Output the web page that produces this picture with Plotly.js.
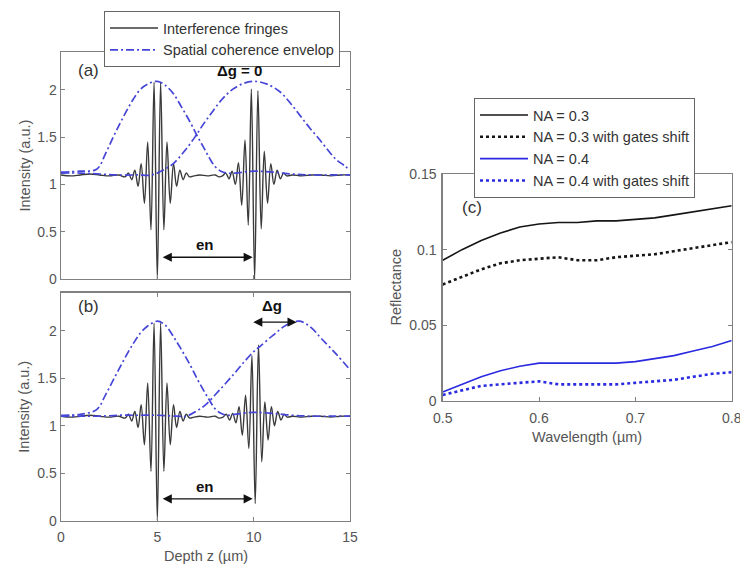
<!DOCTYPE html>
<html>
<head>
<meta charset="utf-8">
<script src="https://cdn.plot.ly/plotly-3.0.1.min.js"></script>
<style>html,body{margin:0;padding:0;background:#fff;}#chart{width:740px;height:569px;}</style>
</head>
<body>
<div id="chart"></div>
<script>
// ---------- Panel (a) data ----------
var fringeZA = [0, 0.5, 1, 1.5, 2, 2.5, 3, 3.33, 3.5, 3.67, 3.83, 4.0, 4.16, 4.33, 4.5, 4.67, 4.83, 5.0, 5.17, 5.34, 5.5, 5.67, 5.84, 6.0, 6.17, 6.34, 6.5, 6.67,
  6.9, 7.2, 7.6, 8.0, 8.2, 8.38, 8.55, 8.72, 8.88, 9.05, 9.21, 9.38, 9.55, 9.72, 9.88, 10.05, 10.22, 10.39, 10.55, 10.72, 10.89, 11.05, 11.22, 11.39, 11.55, 11.72,
  12, 12.5, 13, 13.5, 14, 14.5, 15];
var fringeIA = [1.10, 1.09, 1.10, 1.11, 1.10, 1.09, 1.10, 1.08, 1.12, 1.05, 1.15, 0.98, 1.22, 0.80, 1.45, 0.52, 2.08, 0.00, 2.08, 0.52, 1.45, 0.80, 1.22, 0.98, 1.15, 1.05, 1.12, 1.08,
  1.09, 1.10, 1.09, 1.10, 1.08, 1.09, 1.12, 1.06, 1.14, 1.00, 1.23, 0.78, 1.47, 0.57, 2.01, 0.00, 1.99, 0.53, 1.35, 0.80, 1.22, 1.00, 1.15, 1.06, 1.12, 1.09,
  1.10, 1.09, 1.10, 1.10, 1.09, 1.10, 1.10];
var envZ1A = [0, 1, 1.85, 2.3, 2.71, 3.05, 3.41, 3.75, 4.1, 4.5, 5.0, 5.4, 5.83, 6.25, 6.7, 7.05, 7.38, 7.7, 7.99, 8.3, 8.6, 9, 10, 11, 12, 13, 14, 15];
var envI1A = [1.13, 1.14, 1.16, 1.32, 1.50, 1.64, 1.78, 1.90, 2.00, 2.06, 2.09, 2.05, 1.96, 1.82, 1.66, 1.52, 1.40, 1.28, 1.19, 1.14, 1.12, 1.12, 1.14, 1.13, 1.11, 1.10, 1.10, 1.10];
var envZ2A = [0, 1, 2, 3, 4, 4.7, 5.3, 5.83, 6.4, 6.95, 7.4, 7.9, 8.4, 8.94, 9.5, 10.07, 10.7, 11.36, 11.9, 12.4, 12.9, 13.44, 13.9, 14.3, 14.7, 15];
var envI2A = [1.12, 1.12, 1.11, 1.10, 1.10, 1.10, 1.15, 1.22, 1.35, 1.50, 1.64, 1.78, 1.91, 2.01, 2.07, 2.09, 2.06, 1.98, 1.86, 1.73, 1.60, 1.47, 1.35, 1.26, 1.20, 1.15];

// ---------- Panel (b) data ----------
var fringeZB = [0, 0.5, 1, 1.5, 2, 2.5, 3, 3.33, 3.5, 3.67, 3.83, 4.0, 4.16, 4.33, 4.5, 4.67, 4.83, 5.0, 5.17, 5.34, 5.5, 5.67, 5.84, 6.0, 6.17, 6.34, 6.5, 6.67,
  6.9, 7.2, 7.6, 8.0, 8.2, 8.41, 8.58, 8.75, 8.91, 9.08, 9.24, 9.41, 9.58, 9.75, 9.91, 10.08, 10.25, 10.42, 10.58, 10.75, 10.92, 11.08, 11.25, 11.42, 11.58, 11.75,
  12, 12.5, 13, 13.5, 14, 14.5, 15];
var fringeIB = [1.10, 1.09, 1.10, 1.11, 1.10, 1.09, 1.10, 1.08, 1.12, 1.05, 1.15, 0.98, 1.22, 0.80, 1.45, 0.52, 2.08, 0.00, 2.08, 0.52, 1.45, 0.80, 1.22, 0.98, 1.15, 1.05, 1.12, 1.08,
  1.09, 1.10, 1.09, 1.10, 1.08, 1.09, 1.12, 1.06, 1.13, 1.03, 1.20, 0.90, 1.32, 0.76, 1.74, 0.18, 1.85, 0.62, 1.25, 0.85, 1.20, 1.00, 1.15, 1.06, 1.12, 1.09,
  1.10, 1.09, 1.10, 1.10, 1.09, 1.10, 1.10];
var envZ1B = [0, 1, 1.85, 2.3, 2.71, 3.1, 3.5, 3.8, 4.1, 4.5, 5.0, 5.4, 5.83, 6.25, 6.7, 7.05, 7.38, 7.7, 7.99, 8.3, 8.6, 9, 10, 11, 12, 13, 14, 15];
var envI1B = [1.11, 1.12, 1.17, 1.32, 1.48, 1.63, 1.78, 1.88, 1.97, 2.05, 2.10, 2.06, 1.94, 1.80, 1.64, 1.50, 1.38, 1.27, 1.18, 1.13, 1.11, 1.12, 1.14, 1.13, 1.11, 1.10, 1.10, 1.10];
var envZ2B = [0, 1, 2, 3, 4, 5, 6, 6.5, 7, 7.5, 8.25, 9.0, 9.5, 10.0, 10.3, 11.0, 11.7, 12.4, 13.0, 13.5, 14.3, 15];
var envI2B = [1.10, 1.10, 1.10, 1.11, 1.11, 1.11, 1.10, 1.10, 1.15, 1.22, 1.38, 1.55, 1.67, 1.78, 1.83, 1.95, 2.06, 2.10, 2.03, 1.92, 1.75, 1.59];

// ---------- Panel (c) data ----------
var wavelength = [0.5, 0.52, 0.54, 0.56, 0.58, 0.6, 0.62, 0.64, 0.66, 0.68, 0.7, 0.72, 0.74, 0.76, 0.78, 0.8];
var na03 = [0.093, 0.100, 0.106, 0.111, 0.115, 0.117, 0.118, 0.118, 0.119, 0.119, 0.120, 0.121, 0.123, 0.125, 0.127, 0.129];
var na03Shift = [0.077, 0.082, 0.087, 0.091, 0.093, 0.094, 0.095, 0.093, 0.093, 0.095, 0.096, 0.097, 0.099, 0.101, 0.103, 0.105];
var na04 = [0.006, 0.011, 0.016, 0.020, 0.023, 0.025, 0.025, 0.025, 0.025, 0.025, 0.026, 0.028, 0.030, 0.033, 0.036, 0.040];
var na04Shift = [0.004, 0.007, 0.010, 0.011, 0.012, 0.013, 0.011, 0.011, 0.011, 0.011, 0.012, 0.013, 0.014, 0.016, 0.018, 0.019];

var legendA = ['Interference fringes', 'Spatial coherence envelop'];
var legendC = ['NA = 0.3', 'NA = 0.3 with gates shift', 'NA = 0.4', 'NA = 0.4 with gates shift'];
var depthTicks = [0, 5, 10, 15];
var intensityTicks = [0, 0.5, 1, 1.5, 2];
var wlTicks = [0.5, 0.6, 0.7, 0.8];
var wlTickText = ['0.5', '0.6', '0.7', '0.8'];
var reflTicks = [0, 0.05, 0.1, 0.15];

var FR = '#3a3a3a', ENV = '#4545d8', BLK = '#151515', BLU = '#2a2ae0';
var envDash = '8px,3px,2px,3px';

var traces = [
  {x: fringeZA, y: fringeIA, xaxis: 'x', yaxis: 'y', mode: 'lines', name: legendA[0], line: {color: FR, width: 1.4, shape: 'spline', smoothing: 1}},
  {x: envZ1A, y: envI1A, xaxis: 'x', yaxis: 'y', mode: 'lines', name: legendA[1], line: {color: ENV, width: 1.7, dash: envDash, shape: 'spline'}},
  {x: envZ2A, y: envI2A, xaxis: 'x', yaxis: 'y', mode: 'lines', name: legendA[1], showlegend: false, line: {color: ENV, width: 1.7, dash: envDash, shape: 'spline'}},
  {x: fringeZB, y: fringeIB, xaxis: 'x2', yaxis: 'y2', mode: 'lines', name: legendA[0], showlegend: false, line: {color: FR, width: 1.4, shape: 'spline', smoothing: 1}},
  {x: envZ1B, y: envI1B, xaxis: 'x2', yaxis: 'y2', mode: 'lines', name: legendA[1], showlegend: false, line: {color: ENV, width: 1.7, dash: envDash, shape: 'spline'}},
  {x: envZ2B, y: envI2B, xaxis: 'x2', yaxis: 'y2', mode: 'lines', name: legendA[1], showlegend: false, line: {color: ENV, width: 1.7, dash: envDash, shape: 'spline'}},
  {x: wavelength, y: na03, xaxis: 'x3', yaxis: 'y3', mode: 'lines', name: legendC[0], legend: 'legend2', line: {color: BLK, width: 1.6}},
  {x: wavelength, y: na03Shift, xaxis: 'x3', yaxis: 'y3', mode: 'lines', name: legendC[1], legend: 'legend2', line: {color: BLK, width: 2.6, dash: 'dot'}},
  {x: wavelength, y: na04, xaxis: 'x3', yaxis: 'y3', mode: 'lines', name: legendC[2], legend: 'legend2', line: {color: BLU, width: 1.6}},
  {x: wavelength, y: na04Shift, xaxis: 'x3', yaxis: 'y3', mode: 'lines', name: legendC[3], legend: 'legend2', line: {color: BLU, width: 2.6, dash: 'dot'}}
];

var FONT = 'Arial, "Liberation Sans", sans-serif';
function ax(extra) {
  var base = {showline: true, linecolor: '#808080', linewidth: 1.4, mirror: 'allticks', ticks: 'inside', ticklen: 4,
    tickcolor: '#808080', tickwidth: 1, showgrid: false, zeroline: false, fixedrange: true,
    ticklabeloverflow: 'allow',
    tickfont: {family: FONT, size: 14, color: '#555'}};
  for (var k in extra) base[k] = extra[k];
  return base;
}

var W = 740, H = 569;
function px(v) { return v / W; }
function py(v) { return 1 - v / H; }

var titleFont = {family: FONT, size: 14.5, color: '#555'};
var annFont = {family: FONT, size: 17, color: '#333'};
var boldFont = {family: FONT, size: 15, color: '#111', weight: 'bold'};
function label(x, y, text, angle) {
  return {xref: 'paper', yref: 'paper', x: px(x), y: py(y), xanchor: 'center', yanchor: 'middle',
    text: text, textangle: angle || 0, showarrow: false, font: titleFont};
}
function note(xr, yr, x, y, text, font) {
  return {xref: xr, yref: yr, x: x, y: y, xanchor: 'center', yanchor: 'middle', text: text, showarrow: false, font: font};
}
function arrow(xr, yr, x0, x1, y) {
  return {xref: xr, yref: yr, axref: xr, ayref: yr, x: x1, y: y, ax: x0, ay: y, text: '', showarrow: true,
    arrowside: 'end+start', arrowhead: 2, startarrowhead: 2, arrowsize: 1.3, startarrowsize: 1.3, arrowwidth: 1.4, arrowcolor: '#111'};
}

var annotations = [
  label(24, 165.5, 'Intensity (a.u.)', -90),
  label(24, 406.7, 'Intensity (a.u.)', -90),
  label(206, 556, 'Depth z (µm)'),
  label(395, 287.5, 'Reflectance', -90),
  label(587, 437, 'Wavelength (µm)'),
  note('x', 'y', 1.43, 2.2, '(a)', annFont),
  note('x', 'y', 9.26, 2.2, 'Δg = 0', boldFont),
  note('x', 'y', 7.47, 0.36, 'en', boldFont),
  arrow('x', 'y', 5.2, 9.95, 0.23),
  note('x2', 'y2', 1.43, 2.25, '(b)', annFont),
  note('x2', 'y2', 10.93, 2.27, 'Δg', boldFont),
  arrow('x2', 'y2', 9.9, 12.23, 2.09),
  note('x2', 'y2', 7.47, 0.36, 'en', boldFont),
  arrow('x2', 'y2', 5.2, 9.95, 0.23),
  note('x3', 'y3', 0.53, 0.128, '(c)', annFont)
];

var legFont = {family: FONT, size: 14.5, color: '#333'};
var layout = {
  width: W, height: H,
  margin: {l: 0, r: 0, t: 0, b: 0},
  paper_bgcolor: '#fff', plot_bgcolor: '#fff',
  font: {family: FONT, size: 14, color: '#333'},
  xaxis: ax({domain: [px(61), px(350)], range: [0, 15], tickvals: depthTicks, showticklabels: false, anchor: 'y'}),
  yaxis: ax({domain: [py(279), py(52)], range: [0, 2.4], tickvals: intensityTicks, anchor: 'x'}),
  xaxis2: ax({domain: [px(61), px(350)], range: [0, 15], tickvals: depthTicks, anchor: 'y2', ticklabelstandoff: 3}),
  yaxis2: ax({domain: [py(520.7), py(292.7)], range: [0, 2.4], tickvals: intensityTicks, anchor: 'x2'}),
  xaxis3: ax({domain: [px(442.7), px(731.7)], range: [0.5, 0.8], tickmode: 'array', tickvals: [0.5, 0.6, 0.7, 0.7999999], ticktext: wlTickText, anchor: 'y3', ticklabelstandoff: 4}),
  yaxis3: ax({domain: [py(401), py(174)], range: [0, 0.15], tickvals: reflTicks, anchor: 'x3', ticklabelstandoff: 2}),
  legend: {x: px(104), y: py(11), xanchor: 'left', yanchor: 'top', bgcolor: '#fff', bordercolor: '#666', borderwidth: 1,
    font: legFont, tracegroupgap: 0, itemwidth: 48},
  legend2: {x: px(474), y: py(98), xanchor: 'left', yanchor: 'top', bgcolor: '#fff', bordercolor: '#666', borderwidth: 1,
    font: legFont, tracegroupgap: 0, itemwidth: 48},
  annotations: annotations,
  showlegend: true
};

Plotly.newPlot('chart', traces, layout, {displayModeBar: false, staticPlot: true});
</script>
</body>
</html>
